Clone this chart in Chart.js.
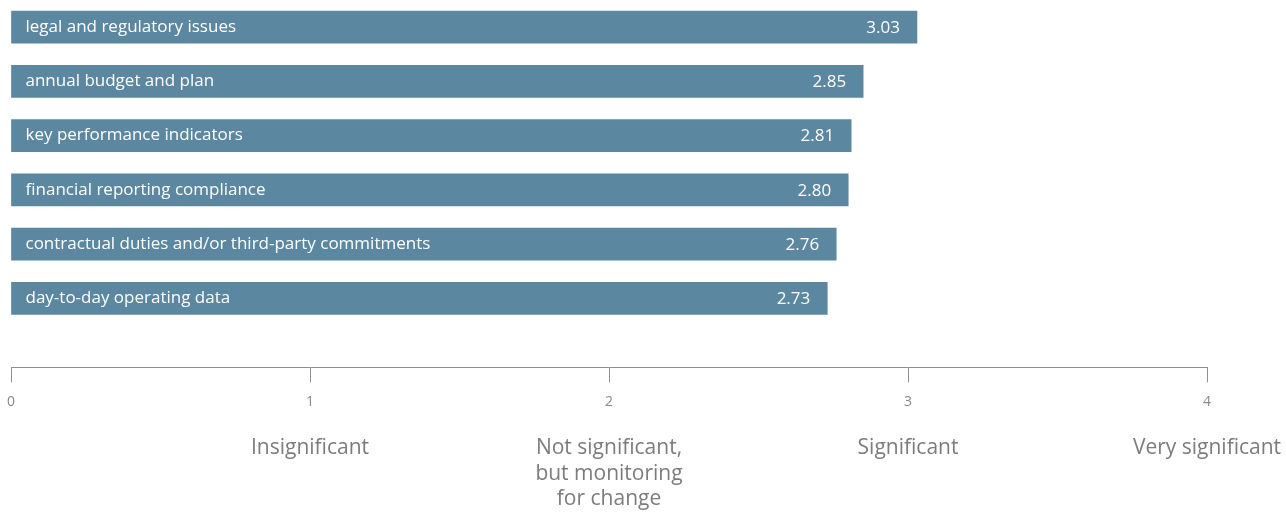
<!DOCTYPE html>
<html>
<head>
<meta charset="utf-8">
<script src="https://cdn.jsdelivr.net/npm/chart.js@4"></script>
<style>
  html, body { margin: 0; padding: 0; background: #fff; }
  #wrap { width: 1286px; height: 512px; }
</style>
</head>
<body>
<div id="wrap"><canvas id="chart" width="1286" height="512"></canvas></div>
<script>
const topics = [
  "legal and regulatory issues",
  "annual budget and plan",
  "key performance indicators",
  "financial reporting compliance",
  "contractual duties and/or third-party commitments",
  "day-to-day operating data"
];
const scores = [3.03, 2.85, 2.81, 2.80, 2.76, 2.73];
const scaleTicks = [0, 1, 2, 3, 4];
const scaleNames = [
  [""],
  ["Insignificant"],
  ["Not significant,", "but monitoring", "for change"],
  ["Significant"],
  ["Very significant"]
];

const barColor = "#5b87a0";
const axisColor = "#8f8f8f";
const font = "'Open Sans', sans-serif";

// write topic name at the left of each bar and the score near its end
const barText = {
  id: "barText",
  afterDatasetsDraw(chart) {
    const ctx = chart.ctx;
    const meta = chart.getDatasetMeta(0);
    ctx.save();
    ctx.fillStyle = "#ffffff";
    ctx.textBaseline = "middle";
    meta.data.forEach((bar, i) => {
      ctx.font = "17px " + font;
      ctx.textAlign = "left";
      ctx.fillText(topics[i], bar.base + 14, bar.y);
      ctx.textAlign = "right";
      ctx.fillText(scores[i].toFixed(2), bar.x - 17, bar.y + 1);
    });
    ctx.restore();
  }
};

// keep the outer labels from squeezing the plot sideways
const noSidePad = (s) => { s.paddingLeft = 0; s.paddingRight = 0; };
const fixedTicks = (s) => { s.ticks = scaleTicks.map(v => ({ value: v })); };

new Chart(document.getElementById("chart"), {
  type: "bar",
  data: {
    datasets: [{
      data: scores.map((v, i) => ({ x: v, y: i })),
      backgroundColor: barColor,
      barThickness: 32,
      borderWidth: 0
    }]
  },
  options: {
    indexAxis: "y",
    responsive: false,
    animation: false,
    layout: { padding: { left: 11, right: 79, top: 0, bottom: -6 } },
    plugins: { legend: { display: false }, tooltip: { enabled: false } },
    scales: {
      y: {
        type: "linear",
        reverse: true,
        offset: false,
        min: -0.5,
        max: 6.27,
        display: false
      },
      x: {
        type: "linear",
        position: "bottom",
        min: 0,
        max: 4,
        afterBuildTicks: fixedTicks,
        afterFit: noSidePad,
        border: { display: true, color: axisColor, width: 1 },
        grid: { drawOnChartArea: false, drawTicks: true, tickLength: 15, color: axisColor },
        ticks: {
          color: "#8a8a8a",
          font: { family: font, size: 14 },
          padding: 11,
          maxRotation: 0
        }
      },
      x2: {
        type: "linear",
        position: "bottom",
        min: 0,
        max: 4,
        afterBuildTicks: fixedTicks,
        afterFit: noSidePad,
        border: { display: false },
        grid: { display: false },
        ticks: {
          color: "#7c7c7c",
          font: { family: font, size: 21, lineHeight: 1.22 },
          padding: 6,
          maxRotation: 0,
          callback: (v) => scaleNames[scaleTicks.indexOf(v)]
        }
      }
    }
  },
  plugins: [barText]
});
</script>
</body>
</html>
